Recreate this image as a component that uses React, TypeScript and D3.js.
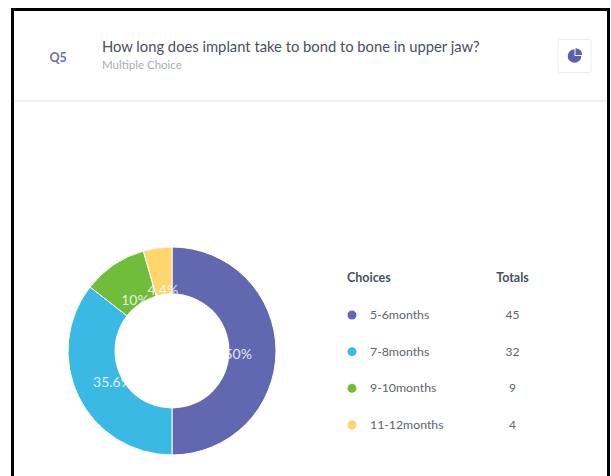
import React from "react";
import * as d3 from "d3";

const choices = ["5-6months", "7-8months", "9-10months", "11-12months"];
const totals = [45, 32, 9, 4];
const percentLabels = ["50%", "35.6%", "10%", "4.4%"];
const colours = ["#6268b0", "#3bb9e5", "#70bd3c", "#fdd66e"];
const iconShares = [25, 75];

const font = "Lato, 'Open Sans', sans-serif";
const cx = 172;
const cy = 351;
const outer = 104;
const inner = 57.5;

const rowY = d3.scalePoint<string>().domain(choices).range([315, 425]);

export default function App() {
  const pie = d3.pie<number>().sort(null)(totals);
  const ringArc = d3.arc<d3.PieArcDatum<number>>().innerRadius(0).outerRadius(outer);
  const labelArc = d3.arc<d3.PieArcDatum<number>>().innerRadius(inner).outerRadius(outer);
  const iconArc = d3.arc<d3.PieArcDatum<number>>().innerRadius(0).outerRadius(6.8);

  return (
    <svg
      width={611}
      height={476}
      viewBox="0 0 611 476"
      style={{ position: "fixed", left: 0, top: 0, background: "#fff", fontFamily: font }}
    >
      <rect x={0} y={0} width={611} height={476} fill="#fff" />

      {/* question header */}
      <text x={49.5} y={62} fontSize={12.5} fontWeight={700} fill="#6a6fb5">Q5</text>
      <text x={102} y={52} fontSize={14.75} fill="#4a4f5e">How long does implant take to bond to bone in upper jaw?</text>
      <text x={102} y={69} fontSize={11.5} fill="#a9acbb">Multiple Choice</text>
      <rect x={558} y={39.5} width={33} height={33} rx={2} fill="#fff" stroke="#ecedf1" />
      <g transform="translate(574.5,56)">
        {d3.pie<number>().sort(null)(iconShares).map((s, i) => (
          <path
            key={i}
            transform={i === 0 ? "translate(1,-1)" : undefined}
            d={iconArc(s) ?? ""}
            fill="#5b5fb0"
          />
        ))}
      </g>
      <line x1={13} x2={607} y1={101} y2={101} stroke="#e9eaee" strokeWidth={1.5} />

      {/* donut: the centre is painted last and clips the value labels */}
      {pie.map((s, i) => (
        <path key={choices[i]} d={ringArc(s) ?? ""} transform={`translate(${cx},${cy})`} fill={colours[i]} stroke="#fff" strokeWidth={1} />
      ))}
      {pie.map((s, i) => {
        const [x, y] = labelArc.centroid(s);
        return (
          <text key={percentLabels[i]} x={cx + x * 0.82} y={cy + y * 0.8 + 8} fontSize={14} textAnchor="middle" fill="#fff" fillOpacity={0.85}>
            {percentLabels[i]}
          </text>
        );
      })}
      <circle cx={cx} cy={cy} r={inner} fill="#fff" />

      {/* choices table */}
      <text x={347} y={282} fontSize={12.5} fontWeight={700} fill="#4a4f5e">Choices</text>
      <text x={512.5} y={282} fontSize={12.5} fontWeight={700} fill="#4a4f5e" textAnchor="middle">Totals</text>
      {choices.map((c, i) => {
        const y = rowY(c) ?? 0;
        return (
          <g key={c}>
            <circle cx={352} cy={y} r={4.5} fill={colours[i]} />
            <text x={370} y={y + 4} fontSize={12.3} fill="#60646f">{c}</text>
            <text x={512.5} y={y + 4} fontSize={12} fill="#60646f" textAnchor="middle">{totals[i]}</text>
          </g>
        );
      })}

      {/* outer frame, open at the bottom of the view */}
      <rect x={12.5} y={9.5} width={596} height={480} fill="none" stroke="#000" strokeWidth={3} />
    </svg>
  );
}
